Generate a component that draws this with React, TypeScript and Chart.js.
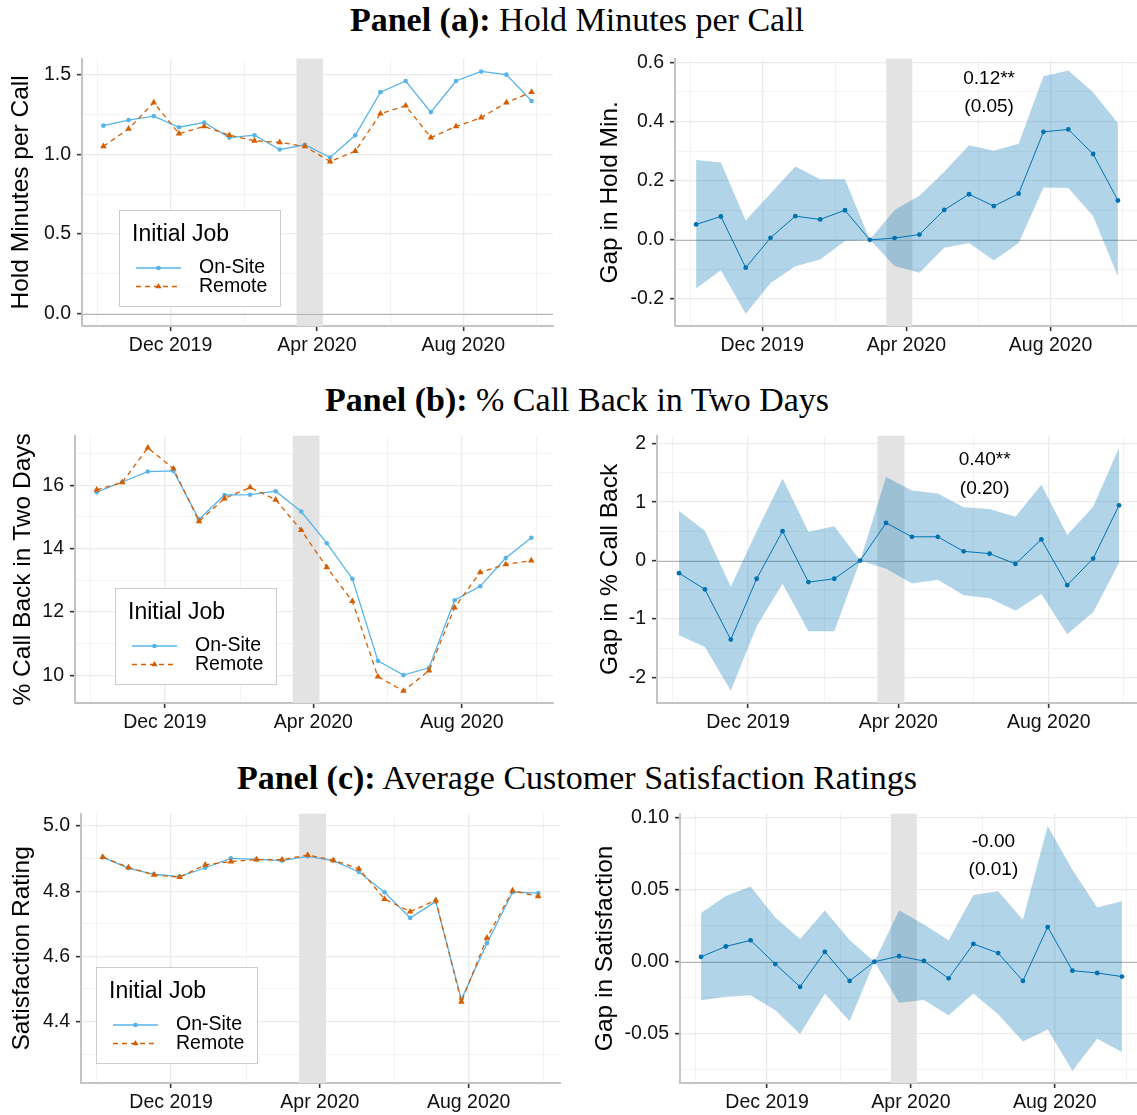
import React, { useEffect, useRef } from "react";
import { Chart, registerables } from "chart.js";
Chart.register(...registerables);

// ---------- data ----------
const periodDates = [
  "2019-10-06", "2019-10-27", "2019-11-17", "2019-12-08", "2019-12-29", "2020-01-19",
  "2020-02-09", "2020-03-01", "2020-03-22", "2020-04-12", "2020-05-03", "2020-05-24",
  "2020-06-14", "2020-07-05", "2020-07-26", "2020-08-16", "2020-09-06", "2020-09-27",
];
const covidBand = ["2020-03-15", "2020-04-06"];
const xTickDates = ["2019-12-01", "2020-04-01", "2020-08-01"];
const xTickLabels = ["Dec 2019", "Apr 2020", "Aug 2020"];
const xMinorDates = ["2019-10-01", "2020-02-01", "2020-06-01", "2020-10-01"];

const seriesNames = ["On-Site", "Remote"];
const legendTitle = "Initial Job";

const holdOnSite = [1.18, 1.215, 1.24, 1.17, 1.2, 1.105, 1.12, 1.03, 1.06, 0.98, 1.12, 1.39, 1.46, 1.265, 1.46, 1.52, 1.5, 1.335];
const holdRemote = [1.05, 1.16, 1.325, 1.13, 1.175, 1.12, 1.085, 1.075, 1.05, 0.955, 1.02, 1.255, 1.305, 1.105, 1.175, 1.23, 1.325, 1.39];
const holdGap = [0.052, 0.079, -0.094, 0.007, 0.08, 0.069, 0.1, 0, 0.006, 0.018, 0.101, 0.154, 0.114, 0.156, 0.365, 0.373, 0.29, 0.133];
const holdUpper = [0.27, 0.261, 0.065, 0.157, 0.248, 0.205, 0.205, 0, 0.101, 0.149, 0.23, 0.32, 0.301, 0.325, 0.553, 0.572, 0.499, 0.394];
const holdLower = [-0.164, -0.103, -0.25, -0.146, -0.089, -0.066, -0.004, 0, -0.088, -0.111, -0.027, -0.011, -0.07, -0.011, 0.177, 0.175, 0.081, -0.124];

const cbOnSite = [15.78, 16.1, 16.43, 16.45, 14.92, 15.69, 15.7, 15.81, 15.17, 14.17, 13.05, 10.46, 10.01, 10.24, 12.37, 12.81, 13.7, 14.34];
const cbRemote = [15.85, 16.09, 17.18, 16.52, 14.86, 15.58, 15.93, 15.54, 14.58, 13.41, 12.34, 9.96, 9.51, 10.15, 12.14, 13.25, 13.5, 13.62];
const cbGap = [-0.215, -0.492, -1.352, -0.311, 0.504, -0.368, -0.311, 0, 0.645, 0.407, 0.407, 0.158, 0.119, -0.057, 0.362, -0.419, 0.034, 0.945];
const cbUpper = [0.849, 0.509, -0.447, 0.5, 1.403, 0.492, 0.588, 0, 1.431, 1.199, 1.149, 0.911, 0.883, 0.752, 1.296, 0.436, 0.922, 1.929];
const cbLower = [-1.279, -1.477, -2.229, -1.126, -0.396, -1.211, -1.211, 0, -0.141, -0.39, -0.328, -0.594, -0.645, -0.86, -0.571, -1.262, -0.883, -0.04];

const satOnSite = [4.904, 4.871, 4.852, 4.845, 4.872, 4.901, 4.898, 4.894, 4.907, 4.894, 4.859, 4.797, 4.718, 4.768, 4.468, 4.64, 4.797, 4.794];
const satRemote = [4.905, 4.873, 4.85, 4.843, 4.881, 4.891, 4.897, 4.897, 4.911, 4.895, 4.869, 4.776, 4.737, 4.772, 4.46, 4.657, 4.802, 4.784];
const satGap = [0.0034, 0.0106, 0.0149, -0.0016, -0.0174, 0.0069, -0.0133, 0, 0.0039, 0.0005, -0.0115, 0.0124, 0.006, -0.0133, 0.0241, -0.0062, -0.0078, -0.0103];
const satUpper = [0.0339, 0.0456, 0.0523, 0.0307, 0.0158, 0.0356, 0.0151, 0, 0.0358, 0.0259, 0.0149, 0.0463, 0.0489, 0.0291, 0.0943, 0.0638, 0.0376, 0.042];
const satLower = [-0.0268, -0.0243, -0.0232, -0.0337, -0.0502, -0.0222, -0.0413, 0, -0.0284, -0.0266, -0.0372, -0.022, -0.0365, -0.0553, -0.047, -0.0757, -0.0534, -0.0626];

const noteDate = "2020-06-10";
const holdNote = ["0.12**", "(0.05)"];
const holdNoteY = [0.545, 0.45];
const cbNote = ["0.40**", "(0.20)"];
const cbNoteY = [1.726, 1.233];
const satNote = ["-0.00", "(0.01)"];
const satNoteY = [0.0835, 0.064];

const holdLevelTicks = [0, 0.5, 1.0, 1.5];
const holdLevelLabels = ["0.0", "0.5", "1.0", "1.5"];
const holdLevelMinor = [0.25, 0.75, 1.25];
const holdGapTicks = [-0.2, 0, 0.2, 0.4, 0.6];
const holdGapLabels = ["-0.2", "0.0", "0.2", "0.4", "0.6"];
const holdGapMinor = [-0.1, 0.1, 0.3, 0.5];
const cbLevelTicks = [10, 12, 14, 16];
const cbLevelLabels = ["10", "12", "14", "16"];
const cbLevelMinor = [11, 13, 15, 17];
const cbGapTicks = [-2, -1, 0, 1, 2];
const cbGapLabels = ["-2", "-1", "0", "1", "2"];
const cbGapMinor = [-1.5, -0.5, 0.5, 1.5];
const satLevelTicks = [4.4, 4.6, 4.8, 5.0];
const satLevelLabels = ["4.4", "4.6", "4.8", "5.0"];
const satLevelMinor = [4.3, 4.5, 4.7, 4.9];
const satGapTicks = [-0.05, 0, 0.05, 0.1];
const satGapLabels = ["-0.05", "0.00", "0.05", "0.10"];
const satGapMinor = [-0.075, -0.025, 0.025, 0.075];

// ---------- styling ----------
const SANS = '"Liberation Sans", Arial, Helvetica, sans-serif';
const SERIF = '"Liberation Serif", "Times New Roman", serif';
const BLUE = "#56B4E9";
const ORANGE = "#D55E00";
const DARK = "#0072B2";
const RIBBON = "rgba(0,114,178,0.3)";
const X_AXIS_H = 40;
const PAD_TOP = 15;
const TITLE_HALF = 14.7;

const BASE = Date.UTC(2019, 9, 1);
const toDay = (s: string) => {
  const [y, m, d] = s.split("-").map(Number);
  return (Date.UTC(y, m - 1, d) - BASE) / 86400000;
};

type Panel = {
  kind: "level" | "gap";
  plot: { left: number; top: number; right: number; bottom: number };
  titleX: number;
  yTitle: string;
  yMin: number;
  yMax: number;
  yTicks: number[];
  yLabels: string[];
  yMinor: number[];
  a?: number[];
  b?: number[];
  c?: number[];
  zero?: boolean;
  legend?: { dx: number; dy: number };
  note?: string[];
  noteY?: number[];
};

const panels: Panel[] = [
  {
    kind: "level", plot: { left: 82, top: 56, right: 557, bottom: 326 }, titleX: 22,
    yTitle: "Hold Minutes per Call", yMin: -0.077, yMax: 1.6,
    yTicks: holdLevelTicks, yLabels: holdLevelLabels, yMinor: holdLevelMinor,
    a: holdOnSite, b: holdRemote, zero: true, legend: { dx: 37, dy: 20 },
  },
  {
    kind: "gap", plot: { left: 675, top: 56, right: 1143, bottom: 326 }, titleX: 611,
    yTitle: "Gap in Hold Min.", yMin: -0.291, yMax: 0.612,
    yTicks: holdGapTicks, yLabels: holdGapLabels, yMinor: holdGapMinor,
    a: holdGap, b: holdUpper, c: holdLower, zero: true, note: holdNote, noteY: holdNoteY,
  },
  {
    kind: "level", plot: { left: 75, top: 433, right: 557, bottom: 703 }, titleX: 24,
    yTitle: "% Call Back in Two Days", yMin: 9.13, yMax: 17.56,
    yTicks: cbLevelTicks, yLabels: cbLevelLabels, yMinor: cbLevelMinor,
    a: cbOnSite, b: cbRemote, legend: { dx: 40, dy: 19 },
  },
  {
    kind: "gap", plot: { left: 657, top: 433, right: 1145, bottom: 703 }, titleX: 611,
    yTitle: "Gap in % Call Back", yMin: -2.437, yMax: 2.137,
    yTicks: cbGapTicks, yLabels: cbGapLabels, yMinor: cbGapMinor,
    a: cbGap, b: cbUpper, c: cbLower, zero: true, note: cbNote, noteY: cbNoteY,
  },
  {
    kind: "level", plot: { left: 81, top: 811, right: 564, bottom: 1083 }, titleX: 23,
    yTitle: "Satisfaction Rating", yMin: 4.211, yMax: 5.038,
    yTicks: satLevelTicks, yLabels: satLevelLabels, yMinor: satLevelMinor,
    a: satOnSite, b: satRemote, legend: { dx: 15, dy: 20 },
  },
  {
    kind: "gap", plot: { left: 680, top: 811, right: 1147, bottom: 1083 }, titleX: 606,
    yTitle: "Gap in Satisfaction", yMin: -0.0842, yMax: 0.1028,
    yTicks: satGapTicks, yLabels: satGapLabels, yMinor: satGapMinor,
    a: satGap, b: satUpper, c: satLower, zero: true, note: satNote, noteY: satNoteY,
  },
];

const titles = [
  { bold: "Panel (a):", rest: " Hold Minutes per Call", y: 0 },
  { bold: "Panel (b):", rest: " % Call Back in Two Days", y: 380 },
  { bold: "Panel (c):", rest: " Average Customer Satisfaction Ratings", y: 758 },
];

function canvasBox(p: Panel) {
  const left = Math.round(p.titleX - TITLE_HALF);
  const top = p.plot.top - PAD_TOP;
  return { left, top, width: p.plot.right - left, height: p.plot.bottom + X_AXIS_H - top };
}

const decorPlugin = {
  id: "decor",
  beforeDatasetsDraw(chart: any, _args: any, opts: any) {
    const { ctx, chartArea: a, scales } = chart;
    const x = scales.x, y = scales.y;
    ctx.save();
    const x0 = x.getPixelForValue(toDay(covidBand[0]));
    const x1 = x.getPixelForValue(toDay(covidBand[1]));
    ctx.fillStyle = "#E3E3E3";
    ctx.fillRect(x0, a.top, x1 - x0, a.bottom - a.top);
    if (opts.zero) {
      const yz = Math.round(y.getPixelForValue(0)) + 0.5;
      ctx.strokeStyle = "#B5B5B5";
      ctx.lineWidth = 1.2;
      ctx.beginPath();
      ctx.moveTo(a.left, yz);
      ctx.lineTo(a.right, yz);
      ctx.stroke();
    }
    ctx.restore();
  },
  afterDatasetsDraw(chart: any, _args: any, opts: any) {
    const { ctx, chartArea: a, scales } = chart;
    ctx.save();
    if (opts.legend) {
      const w = 161, h = 96;
      const bx = Math.round(a.left + opts.legend.dx);
      const by = Math.round(a.bottom - opts.legend.dy - h);
      ctx.fillStyle = "#FFFFFF";
      ctx.fillRect(bx, by, w, h);
      ctx.strokeStyle = "#CCCCCC";
      ctx.lineWidth = 1;
      ctx.strokeRect(bx + 0.5, by + 0.5, w, h);
      ctx.fillStyle = "#000";
      ctx.textBaseline = "middle";
      ctx.textAlign = "left";
      ctx.font = `23px ${SANS}`;
      ctx.fillText(legendTitle, bx + 13, by + 25);
      ctx.font = `19.5px ${SANS}`;
      const items = [
        { name: seriesNames[0], color: BLUE, dash: [] as number[], tri: false },
        { name: seriesNames[1], color: ORANGE, dash: [5, 4], tri: true },
      ];
      items.forEach((it, i) => {
        const cy = by + 58 + i * 18.5;
        ctx.strokeStyle = it.color;
        ctx.lineWidth = 1.3;
        ctx.setLineDash(it.dash);
        ctx.beginPath();
        ctx.moveTo(bx + 17, cy);
        ctx.lineTo(bx + 62, cy);
        ctx.stroke();
        ctx.setLineDash([]);
        ctx.fillStyle = it.color;
        const mx = bx + 39.5;
        ctx.beginPath();
        if (it.tri) {
          const r = 3.6;
          ctx.moveTo(mx, cy - r);
          ctx.lineTo(mx + r * 0.866, cy + r * 0.5);
          ctx.lineTo(mx - r * 0.866, cy + r * 0.5);
          ctx.closePath();
        } else {
          ctx.arc(mx, cy, 2.3, 0, Math.PI * 2);
        }
        ctx.fill();
        ctx.fillStyle = "#000";
        ctx.fillText(it.name, bx + 80, cy);
      });
    }
    if (opts.note) {
      ctx.fillStyle = "#000";
      ctx.textAlign = "center";
      ctx.textBaseline = "middle";
      ctx.font = `19px ${SANS}`;
      const nx = scales.x.getPixelForValue(toDay(noteDate));
      opts.note.forEach((t: string, i: number) => {
        ctx.fillText(t, nx, scales.y.getPixelForValue(opts.noteY[i]));
      });
    }
    ctx.restore();
  },
};

function buildConfig(p: Panel): any {
  const xs = periodDates.map(toDay);
  const xLo = Math.min(...xs), xHi = Math.max(...xs);
  const xr = xHi - xLo;
  const xMin = xLo - 0.05 * xr, xMax = xHi + 0.05 * xr;
  const xMajor = xTickDates.map(toDay);
  const xMinor = xMinorDates.map(toDay);
  const pts = (arr: number[]) => arr.map((v, i) => ({ x: xs[i], y: v }));
  const box = canvasBox(p);
  const yAxisW = p.plot.left - box.left;

  const datasets =
    p.kind === "level"
      ? [
          {
            label: seriesNames[1], data: pts(p.b!), borderColor: ORANGE, backgroundColor: ORANGE,
            borderDash: [5, 4], borderWidth: 1.3, pointStyle: "triangle", pointRadius: 3.8,
            pointBorderWidth: 0, order: 0, fill: false,
          },
          {
            label: seriesNames[0], data: pts(p.a!), borderColor: BLUE, backgroundColor: BLUE,
            borderWidth: 1.3, pointRadius: 2.3, pointBorderWidth: 0, order: 1, fill: false,
          },
        ]
      : [
          {
            label: "gap", data: pts(p.a!), borderColor: DARK, backgroundColor: DARK,
            borderWidth: 1, pointRadius: 2.4, pointBorderWidth: 0, order: 0, fill: false,
          },
          {
            label: "upper", data: pts(p.b!), borderColor: "rgba(0,0,0,0)", borderWidth: 0,
            pointRadius: 0, backgroundColor: RIBBON, fill: "+1", order: 1,
          },
          {
            label: "lower", data: pts(p.c!), borderColor: "rgba(0,0,0,0)", borderWidth: 0,
            pointRadius: 0, fill: false, order: 2,
          },
        ];

  const isMajorX = (v: number) => xMajor.indexOf(v) >= 0;
  const isMajorY = (v: number) => p.yTicks.indexOf(v) >= 0;

  return {
    type: "line",
    data: { datasets },
    plugins: [decorPlugin],
    options: {
      animation: false,
      responsive: false,
      devicePixelRatio: 1,
      layout: { padding: { top: PAD_TOP, left: 0, right: 0, bottom: 0 } },
      plugins: {
        legend: { display: false },
        tooltip: { enabled: false },
        decor: { zero: p.zero, legend: p.legend, note: p.note, noteY: p.noteY },
      },
      elements: { line: { tension: 0 } },
      scales: {
        x: {
          type: "linear", min: xMin, max: xMax,
          afterBuildTicks: (s: any) => {
            s.ticks = [...xMinor, ...xMajor].sort((u, v) => u - v).map((v) => ({ value: v }));
          },
          afterFit: (s: any) => { s.height = X_AXIS_H; },
          ticks: {
            autoSkip: false, maxRotation: 0, minRotation: 0, padding: 3,
            font: { family: SANS, size: 19.5 }, color: "#111",
            callback: (v: number) => {
              const i = xMajor.indexOf(v);
              return i >= 0 ? xTickLabels[i] : "";
            },
          },
          grid: {
            color: (c: any) => (c.tick && isMajorX(c.tick.value) ? "#EBEBEB" : "#F3F3F3"),
            lineWidth: (c: any) => (c.tick && isMajorX(c.tick.value) ? 1.3 : 1),
            tickColor: (c: any) => (c.tick && isMajorX(c.tick.value) ? "#333333" : "rgba(0,0,0,0)"),
            tickLength: 5, tickWidth: 1.6,
          },
          border: { display: true, color: "#C4C4C4", width: 2 },
        },
        y: {
          type: "linear", min: p.yMin, max: p.yMax,
          afterBuildTicks: (s: any) => {
            s.ticks = [...p.yMinor, ...p.yTicks]
              .filter((v) => v >= p.yMin && v <= p.yMax)
              .sort((u, v) => u - v)
              .map((v) => ({ value: v }));
          },
          afterFit: (s: any) => { s.width = yAxisW; },
          title: {
            display: true, text: p.yTitle, color: "#000",
            font: { family: SANS, size: 24.5, lineHeight: 1.2 }, padding: 0,
          },
          ticks: {
            padding: 6, font: { family: SANS, size: 19.5 }, color: "#111",
            callback: (v: number) => {
              const i = p.yTicks.indexOf(v);
              return i >= 0 ? p.yLabels[i] : "";
            },
          },
          grid: {
            color: (c: any) => (c.tick && isMajorY(c.tick.value) ? "#EBEBEB" : "#F3F3F3"),
            lineWidth: (c: any) => (c.tick && isMajorY(c.tick.value) ? 1.3 : 1),
            tickColor: (c: any) => (c.tick && isMajorY(c.tick.value) ? "#333333" : "rgba(0,0,0,0)"),
            tickLength: 5, tickWidth: 1.6,
          },
          border: { display: true, color: "#C4C4C4", width: 2 },
        },
      },
    },
  };
}

function PanelChart({ p }: { p: Panel }) {
  const ref = useRef<HTMLCanvasElement | null>(null);
  const box = canvasBox(p);
  useEffect(() => {
    if (!ref.current) return;
    const chart = new Chart(ref.current, buildConfig(p));
    return () => chart.destroy();
  }, []);
  return (
    <canvas
      ref={ref}
      width={box.width}
      height={box.height}
      style={{ position: "absolute", left: box.left, top: box.top, width: box.width, height: box.height }}
    />
  );
}

export default function App() {
  return (
    <div
      style={{
        position: "absolute", left: 0, top: 0, width: 1137, height: 1115,
        overflow: "hidden", background: "#fff",
      }}
    >
      {titles.map((t, i) => (
        <div
          key={i}
          style={{
            position: "absolute", left: 0, width: 1154, top: t.y, textAlign: "center",
            fontFamily: SERIF, fontSize: 34, lineHeight: "40px", color: "#000", whiteSpace: "nowrap",
          }}
        >
          <span style={{ fontWeight: "bold" }}>{t.bold}</span>
          <span>{t.rest}</span>
        </div>
      ))}
      {panels.map((p, i) => (
        <PanelChart key={i} p={p} />
      ))}
    </div>
  );
}
